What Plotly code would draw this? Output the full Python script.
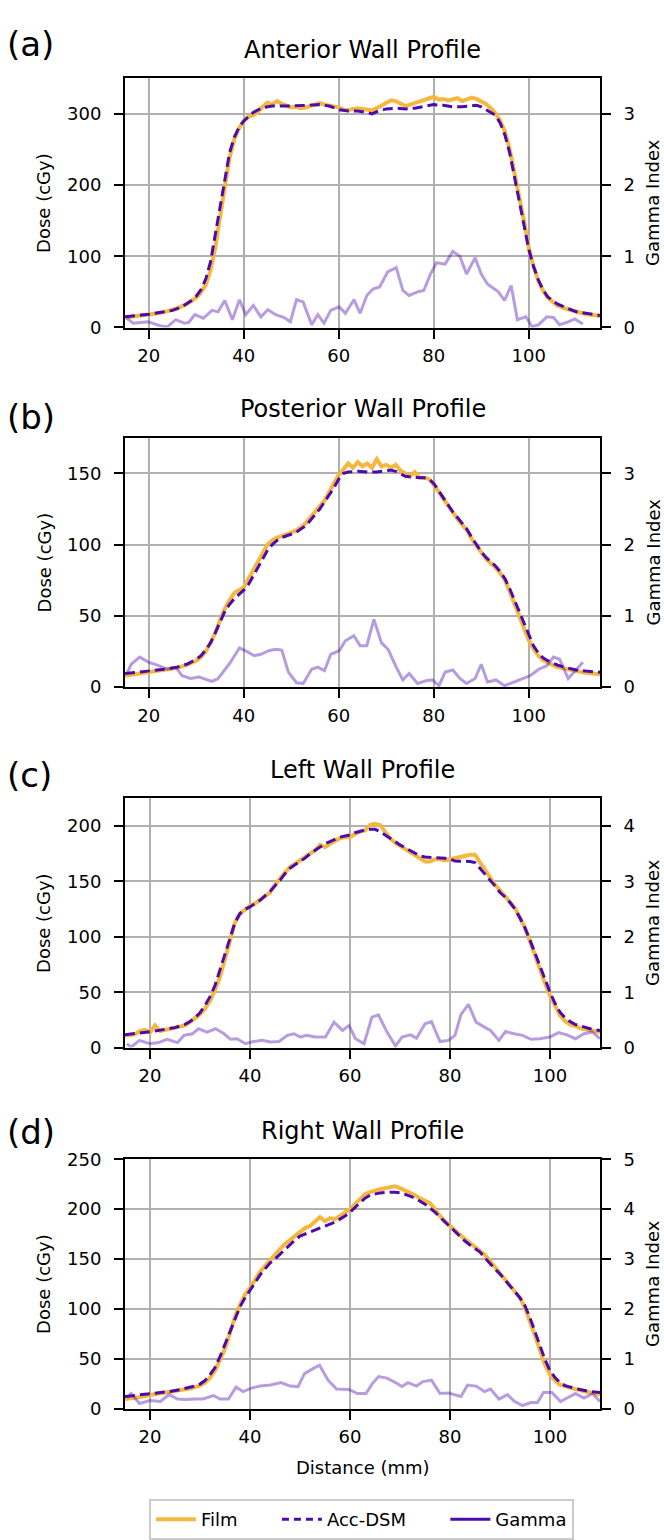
import plotly.graph_objects as go

# ---------------- DATA ----------------
titles = ["Anterior Wall Profile", "Posterior Wall Profile", "Left Wall Profile", "Right Wall Profile"]
panel_labels = ["(a)", "(b)", "(c)", "(d)"]
x_ranges = [[15, 115], [15, 115], [15, 110], [15, 110]]
dose_max = [350, 175, 225, 250]
gamma_max = [3.5, 3.5, 4.5, 5]
dose_ticks = [[0, 100, 200, 300], [0, 50, 100, 150], [0, 50, 100, 150, 200], [0, 50, 100, 150, 200, 250]]
gamma_ticks = [[0, 1, 2, 3], [0, 1, 2, 3], [0, 1, 2, 3, 4], [0, 1, 2, 3, 4, 5]]
x_ticks = [20, 40, 60, 80, 100]
legend_names = ["Film", "Acc-DSM", "Gamma"]

# (a) Anterior
a_dsm_x = [15, 20, 25, 27, 29, 30, 31, 32, 33, 34, 35, 36, 37, 38, 39, 40, 42, 44, 46, 50, 54, 56, 58, 60, 62, 64, 66, 67, 68, 70, 72, 74, 76, 78, 80, 82, 84, 86, 88, 89, 90, 91, 92, 93, 94, 95, 96, 97, 98, 99, 100, 101, 102, 103, 104, 106, 108, 110, 112, 115]
a_dsm_y = [15, 18.5, 24, 29, 38, 44, 53, 68, 92, 130, 172, 212, 245, 267, 281, 290, 302, 309, 311, 311, 312, 313, 311, 306, 304, 304, 302, 300, 303, 307, 308, 307, 308, 310, 313, 312, 310, 310, 312, 312, 310, 306, 302, 298, 287, 270, 245, 212, 180, 148, 110, 86, 67, 53, 43, 33, 27, 22, 20, 17]
a_film_x = [15, 18, 20, 22, 24, 26, 28, 29, 30, 31, 32, 33, 34, 35, 36, 37, 38, 39, 40, 41, 42, 43, 44, 45, 46, 47, 48, 49, 50, 51, 52, 53, 54, 55, 56, 57, 58, 59, 60, 61, 62, 63, 64, 65, 66, 67, 68, 69, 70, 71, 72, 73, 74, 75, 76, 77, 78, 79, 80, 81, 82, 83, 84, 85, 86, 87, 88, 89, 90, 91, 92, 93, 94, 95, 96, 97, 98, 99, 100, 101, 102, 103, 104, 105, 106, 108, 110, 112, 115]
a_film_y = [14, 16, 18, 20, 23, 27, 33, 37, 42, 49, 60, 80, 112, 155, 200, 238, 264, 280, 290, 296, 298, 303, 310, 316, 313, 318, 314, 311, 309, 310, 308, 309, 311, 313, 315, 313, 312, 310, 309, 306, 305, 307, 308, 307, 306, 305, 308, 312, 316, 319, 318, 315, 311, 313, 315, 317, 319, 322, 324, 320, 321, 319, 320, 322, 318, 321, 323, 321, 318, 314, 308, 301, 290, 275, 250, 218, 184, 150, 112, 86, 66, 52, 42, 36, 31, 26, 22, 19, 16]
a_gam_x = [15.4, 16.7, 19.9, 22.6, 23.9, 25.7, 27.5, 28.4, 29.7, 31.5, 33.3, 34.6, 36.0, 37.6, 39.1, 40.4, 42.0, 43.6, 45.1, 46.7, 48.5, 49.8, 51.1, 52.5, 54.3, 55.6, 56.9, 58.3, 60.1, 61.4, 63.2, 64.5, 65.9, 67.2, 68.6, 70.3, 72.1, 73.5, 74.8, 76.6, 77.9, 79.3, 80.6, 82.4, 84.0, 85.5, 86.9, 88.7, 90.0, 91.3, 93.6, 94.9, 96.3, 97.6, 99.4, 100.7, 102.1, 103.8, 105.2, 106.5, 108.3, 109.7, 111.4]
a_gam_y = [0.13, 0.06, 0.08, 0.02, 0.01, 0.11, 0.06, 0.07, 0.18, 0.13, 0.24, 0.22, 0.38, 0.11, 0.39, 0.18, 0.31, 0.15, 0.25, 0.18, 0.14, 0.08, 0.39, 0.36, 0.04, 0.18, 0.06, 0.24, 0.29, 0.20, 0.39, 0.20, 0.45, 0.54, 0.57, 0.78, 0.84, 0.52, 0.45, 0.50, 0.52, 0.75, 0.91, 0.89, 1.07, 1.00, 0.75, 0.98, 0.75, 0.61, 0.50, 0.38, 0.59, 0.11, 0.15, 0.01, 0.04, 0.15, 0.14, 0.04, 0.08, 0.12, 0.05]

# (b) Posterior
b_dsm_x = [15, 18, 20, 22, 24, 26, 28, 30, 31, 32, 33, 34, 35, 36, 37, 38, 39, 40, 41, 42, 43, 44, 45, 46, 47, 48, 49, 50, 51, 52, 53, 54, 55, 56, 57, 58, 59, 60, 61, 62, 64, 66, 68, 70, 71, 72, 73, 74, 76, 78, 79, 80, 81, 82, 83, 84, 85, 86, 87, 88, 89, 90, 91, 92, 93, 94, 95, 96, 97, 98, 99, 100, 101, 102, 103, 104, 105, 106, 108, 110, 112, 115]
b_dsm_y = [9.5, 10.5, 11, 12, 12.7, 14, 16, 19.5, 22, 26, 31, 38, 46, 53, 58, 62, 65, 68, 72, 78, 85, 91, 96, 100, 103, 105, 106, 107.5, 108.5, 111, 113, 117, 121, 125, 130, 135, 140, 146, 150, 151, 151.5, 151, 151, 152, 152.3, 151.5, 149.5, 148, 147.2, 147, 146, 143, 138, 133, 128, 123, 119, 115, 110.8, 105, 100, 95, 91, 88, 85, 81, 76, 69, 61, 52, 44, 36, 29, 24, 20.5, 18.5, 17, 15.5, 13.5, 12, 11.2, 10.4]
b_film_x = [15, 16, 18, 20, 22, 24, 26, 28, 30, 31, 32, 33, 34, 35, 36, 37, 38, 39, 40, 41, 42, 43, 44, 45, 46, 47, 48, 49, 50, 51, 52, 53, 54, 55, 56, 57, 58, 59, 60, 61, 62, 63, 64, 65, 66, 67, 68, 69, 70, 71, 72, 73, 74, 75, 76, 77, 78, 79, 80, 81, 82, 83, 84, 85, 86, 87, 88, 89, 90, 91, 92, 93, 94, 95, 96, 97, 98, 99, 100, 101, 102, 103, 104, 105, 106, 108, 110, 112, 115]
b_film_y = [8, 8.5, 9, 10, 11, 12, 13.5, 15.5, 18.5, 21, 25, 31, 38, 47, 55, 61, 66, 68, 70, 76, 82, 89, 95, 100, 103, 105, 106, 107, 108.5, 110, 112, 115, 119, 123, 127, 131, 137, 143, 149, 153, 157, 154, 158, 155, 157, 154, 160, 155, 156, 154, 156, 152, 150, 148, 151, 147, 147, 146, 142, 137, 132, 127, 122, 118, 114, 110, 104, 99, 94, 90, 87, 84, 80, 75, 67, 58, 49, 40, 33, 27, 22, 19, 17, 15.5, 14, 12.5, 11, 10, 9]
b_gam_x = [15.4, 16.3, 18.1, 19.9, 22.1, 23.9, 25.7, 27.0, 28.8, 30.6, 33.3, 34.6, 36.9, 39.1, 40.9, 42.2, 43.6, 45.3, 46.7, 48.0, 49.4, 51.1, 52.5, 54.3, 55.6, 57.0, 58.3, 60.1, 61.4, 63.2, 64.5, 65.9, 67.4, 69.0, 70.4, 72.1, 73.5, 74.8, 76.6, 78.4, 79.7, 81.1, 82.4, 84.0, 85.5, 86.9, 88.7, 90.0, 91.3, 93.1, 94.9, 96.7, 98.5, 100.3, 102.1, 103.8, 105.2, 106.5, 108.3, 109.7, 111.4]
b_gam_y = [0.19, 0.32, 0.42, 0.35, 0.30, 0.25, 0.28, 0.16, 0.12, 0.14, 0.08, 0.12, 0.32, 0.55, 0.49, 0.44, 0.46, 0.51, 0.53, 0.52, 0.21, 0.06, 0.05, 0.25, 0.28, 0.23, 0.46, 0.51, 0.65, 0.72, 0.58, 0.58, 0.95, 0.62, 0.53, 0.28, 0.10, 0.19, 0.05, 0.09, 0.10, 0.02, 0.21, 0.24, 0.12, 0.05, 0.12, 0.32, 0.07, 0.10, 0.02, 0.07, 0.12, 0.16, 0.25, 0.30, 0.42, 0.39, 0.12, 0.23, 0.35]

# (c) Left
c_dsm_x = [15, 17, 19, 21, 23, 25, 27, 28, 29, 30, 31, 32, 33, 34, 35, 36, 37, 38, 39, 40, 41, 42, 43, 44, 45, 46, 47, 48, 49, 50, 51, 52, 53, 54, 55, 56, 57, 58, 59, 60, 61, 62, 63, 64, 65, 66, 67, 68, 69, 70, 71, 72, 73, 74, 75, 76, 77, 78, 79, 80, 81, 82, 83, 84, 85, 86, 87, 88, 89, 90, 91, 92, 93, 94, 95, 96, 97, 98, 99, 100, 101, 102, 103, 104, 105, 106, 107, 108, 110]
c_dsm_y = [11.5, 12.5, 13.5, 15, 16.5, 18, 21, 23.5, 27, 31.5, 38, 46, 56, 70, 85, 100, 113, 121, 125, 127, 130, 133, 137, 141, 146, 151, 157, 162, 165, 168, 171, 175, 178, 181, 184, 186, 188, 190, 191, 192, 194, 195.5, 196.5, 197, 197, 195, 192, 188.5, 186, 183, 180.5, 178, 175, 173, 172, 171.8, 171.5, 171.2, 171, 170, 168.5, 168.3, 168.3, 168, 167, 162, 156, 151, 146, 140, 136, 131, 125, 117, 108, 97, 85, 73, 61, 50, 40, 32, 27, 23.5, 21, 19.5, 18, 17, 15.4]
c_film_x = [15, 16, 17, 18, 19, 20, 21, 22, 23, 24, 25, 26, 27, 28, 29, 30, 31, 32, 33, 34, 35, 36, 37, 38, 39, 40, 41, 42, 43, 44, 45, 46, 47, 48, 49, 50, 51, 52, 53, 54, 55, 56, 57, 58, 59, 60, 61, 62, 63, 64, 65, 66, 67, 68, 69, 70, 71, 72, 73, 74, 75, 76, 77, 78, 79, 80, 81, 82, 83, 84, 85, 86, 87, 88, 89, 90, 91, 92, 93, 94, 95, 96, 97, 98, 99, 100, 101, 102, 103, 104, 105, 106, 107, 108, 110]
c_film_y = [11, 11.5, 12, 15, 16, 13.5, 20, 15, 16, 17, 18, 18.5, 20, 23, 26, 30, 35, 42, 52, 64, 80, 97, 113, 121, 125, 128, 130, 133, 136, 140, 147, 153, 158, 163, 166, 169, 172, 175, 178, 183, 181, 184, 187, 189, 190, 190, 193, 195, 196, 201, 202, 201, 195, 189, 185, 182, 179, 176, 173, 170, 168, 168, 170, 170, 169, 170, 171, 172, 173, 174, 174, 167, 160, 153, 147, 142, 137, 131, 126, 117, 108, 96, 83, 70, 58, 47, 37, 29, 24, 21, 19.5, 17.5, 16.5, 15.5, 14]
c_gam_x = [15.4, 16.2, 17.9, 20.0, 21.7, 23.4, 25.5, 26.8, 28.5, 29.7, 31.4, 33.1, 34.8, 36.1, 37.4, 39.1, 40.7, 42.4, 44.1, 45.8, 47.5, 48.8, 50.1, 51.3, 53.0, 55.1, 56.8, 58.5, 59.8, 61.1, 62.8, 64.4, 65.7, 67.4, 69.1, 70.4, 72.1, 73.3, 75.0, 76.3, 78.0, 79.7, 81.0, 82.2, 83.7, 85.2, 86.9, 88.1, 89.8, 91.1, 92.8, 94.5, 96.2, 97.9, 100.0, 101.7, 103.4, 105.1, 106.8, 108.5, 110.0]
c_gam_y = [0.07, 0.01, 0.13, 0.07, 0.09, 0.15, 0.09, 0.22, 0.25, 0.34, 0.28, 0.34, 0.25, 0.15, 0.16, 0.07, 0.11, 0.13, 0.10, 0.11, 0.22, 0.25, 0.19, 0.22, 0.19, 0.19, 0.46, 0.31, 0.40, 0.16, 0.07, 0.55, 0.59, 0.28, 0.03, 0.19, 0.23, 0.17, 0.43, 0.47, 0.11, 0.13, 0.22, 0.60, 0.78, 0.46, 0.37, 0.31, 0.13, 0.29, 0.25, 0.22, 0.15, 0.16, 0.19, 0.27, 0.23, 0.16, 0.25, 0.28, 0.16]

# (d) Right
d_dsm_x = [15, 17, 20, 22, 24, 26, 28, 29, 30, 31, 32, 33, 34, 35, 36, 37, 38, 39, 40, 41, 42, 43, 44, 45, 46, 47, 48, 49, 50, 51, 52, 53, 54, 55, 56, 57, 58, 59, 60, 61, 62, 63, 64, 65, 66, 67, 68, 69, 70, 71, 72, 73, 74, 75, 76, 77, 78, 79, 80, 81, 82, 83, 84, 85, 86, 87, 88, 89, 90, 91, 92, 93, 94, 95, 96, 97, 98, 99, 100, 101, 102, 103, 104, 105, 106, 108, 110]
d_dsm_y = [12, 13, 14.8, 16, 17.1, 19, 21, 22.5, 24.5, 28, 34, 41, 52, 65, 78, 91, 102, 111, 118, 126, 134, 140, 146, 150, 155, 160, 165, 169, 173, 175, 177, 179, 181, 183, 185, 187, 190, 193, 197, 202, 207, 211, 214, 215.5, 216.3, 216.8, 217, 217, 216.5, 215, 213, 211, 208, 205, 201, 197, 192, 187, 182, 177, 172.5, 168, 164, 160.5, 157, 151, 145, 140, 135, 129, 122, 116, 111, 103, 91, 77, 63, 49, 38, 31, 26, 23, 21.5, 20, 19, 17, 16]
d_film_x = [15, 16, 18, 20, 22, 24, 26, 28, 29, 30, 31, 32, 33, 34, 35, 36, 37, 38, 39, 40, 41, 42, 43, 44, 45, 46, 47, 48, 49, 50, 51, 52, 53, 54, 55, 56, 57, 58, 59, 60, 61, 62, 63, 64, 65, 66, 67, 68, 69, 70, 71, 72, 73, 74, 75, 76, 77, 78, 79, 80, 81, 82, 83, 84, 85, 86, 87, 88, 89, 90, 91, 92, 93, 94, 95, 96, 97, 98, 99, 100, 101, 102, 103, 104, 105, 106, 108, 110]
d_film_y = [9.5, 10, 11.5, 13.5, 15, 16.5, 18, 20, 21.5, 23, 26, 31, 38, 48, 60, 76, 92, 104, 114, 121, 129, 137, 143, 149, 155, 160, 165, 169, 173, 178, 181, 183, 187, 192, 188, 191, 190, 193, 197, 200, 205, 210, 215, 217, 219, 220, 221, 222, 223, 221, 219, 217, 214, 211, 209, 206, 200, 193, 188, 183, 178, 174, 170, 166, 162, 159, 154, 148, 142, 136, 130, 123, 117, 111, 101, 88, 73, 58, 44, 34, 28, 24, 22, 21, 19.5, 18, 16, 14]
d_gam_x = [15.4, 16.2, 17.9, 20.0, 22.1, 23.8, 25.5, 27.2, 28.9, 30.6, 32.7, 34.0, 35.7, 37.2, 38.6, 40.3, 42.0, 44.1, 46.2, 48.0, 49.6, 50.9, 52.6, 53.9, 55.6, 57.3, 59.8, 61.5, 63.2, 64.4, 65.7, 67.4, 69.1, 70.4, 71.6, 73.3, 74.6, 76.3, 78.0, 79.7, 82.2, 83.5, 85.2, 86.9, 88.1, 89.8, 91.5, 92.8, 94.5, 96.2, 97.5, 98.7, 100.4, 102.1, 103.4, 105.1, 106.8, 108.5, 110.0]
d_gam_y = [0.21, 0.30, 0.10, 0.16, 0.14, 0.28, 0.19, 0.18, 0.19, 0.19, 0.26, 0.19, 0.19, 0.43, 0.34, 0.41, 0.45, 0.47, 0.52, 0.45, 0.44, 0.70, 0.80, 0.87, 0.57, 0.39, 0.38, 0.30, 0.30, 0.49, 0.64, 0.61, 0.52, 0.44, 0.52, 0.45, 0.54, 0.57, 0.30, 0.31, 0.24, 0.47, 0.45, 0.34, 0.39, 0.19, 0.28, 0.15, 0.06, 0.12, 0.12, 0.32, 0.32, 0.14, 0.21, 0.30, 0.21, 0.30, 0.14]

panels = [
    (a_film_x, a_film_y, a_dsm_x, a_dsm_y, a_gam_x, a_gam_y),
    (b_film_x, b_film_y, b_dsm_x, b_dsm_y, b_gam_x, b_gam_y),
    (c_film_x, c_film_y, c_dsm_x, c_dsm_y, c_gam_x, c_gam_y),
    (d_film_x, d_film_y, d_dsm_x, d_dsm_y, d_gam_x, d_gam_y),
]

# ---------------- STYLE ----------------
W, H = 664, 1540
FONT = "DejaVu Sans"
FILM_C = "#F5B83F"
DSM_C = "#4C0BB0"
GRID_C = "#b0b0b0"
plot_left, plot_right = 125, 600
plot_tops = [68.3, 433.3, 799.3, 1165.7]
plot_h = 253.0
label_y = [34, 412, 776, 1137.5]

def px_x(p):
    return p / W

def px_y(p):
    return 1 - p / H

fig = go.Figure()
layout = dict(
    width=W, height=H, margin=dict(l=0, r=0, t=0, b=0),
    paper_bgcolor="white", plot_bgcolor="white",
    font=dict(family=FONT, size=18, color="black"),
    annotations=[],
)

axis_common = dict(
    showline=True, linecolor="black", linewidth=2,
    ticks="outside", ticklen=9, tickwidth=2, tickcolor="black",
    tickfont=dict(family=FONT, size=18, color="black"),
    zeroline=False,
)

for i, (fx, fy, dx, dy, gx, gy) in enumerate(panels):
    n = i + 1
    xname = "x" if n == 1 else f"x{n}"
    yl = 2 * i + 1
    yr = 2 * i + 2
    ylname = "y" if yl == 1 else f"y{yl}"
    yrname = f"y{yr}"
    top = plot_tops[i]
    bot = top + plot_h

    fig.add_trace(go.Scatter(x=fx, y=fy, mode="lines", xaxis=xname, yaxis=ylname,
                             line=dict(color=FILM_C, width=4), showlegend=False))
    fig.add_trace(go.Scatter(x=dx, y=dy, mode="lines", xaxis=xname, yaxis=ylname,
                             line=dict(color=DSM_C, width=3, dash="10px,5px"), showlegend=False))
    fig.add_trace(go.Scatter(x=gx, y=gy, mode="lines", xaxis=xname, yaxis=yrname,
                             line=dict(color=DSM_C, width=3), opacity=0.4, showlegend=False))

    layout["xaxis" if n == 1 else f"xaxis{n}"] = dict(
        axis_common, domain=[px_x(plot_left), px_x(plot_right)], range=x_ranges[i],
        anchor=ylname, tickvals=x_ticks, showgrid=True, gridcolor=GRID_C, gridwidth=1.5,
        mirror=True, ticklabelstandoff=2,
    )
    layout["yaxis" if yl == 1 else f"yaxis{yl}"] = dict(
        axis_common, domain=[px_y(bot), px_y(top)], range=[0, dose_max[i]],
        anchor=xname, tickvals=dose_ticks[i], showgrid=True, gridcolor=GRID_C, gridwidth=1.5,
        ticklabelstandoff=9,
    )
    layout[f"yaxis{yr}"] = dict(
        axis_common, overlaying=ylname, side="right", range=[0, gamma_max[i]],
        anchor=xname, tickvals=gamma_ticks[i], showgrid=False, ticklabelstandoff=9,
    )

    mid = (top + bot) / 2
    layout["annotations"] += [
        dict(text=titles[i], x=px_x((plot_left + plot_right) / 2), y=px_y(top - 29),
             xref="paper", yref="paper", xanchor="center", yanchor="middle",
             showarrow=False, font=dict(family=FONT, size=24, color="black")),
        dict(text=panel_labels[i], x=px_x(5), y=px_y(label_y[i]),
             xref="paper", yref="paper", xanchor="left", yanchor="middle",
             showarrow=False, font=dict(family=FONT, size=34, color="black")),
        dict(text="Dose (cGy)", x=px_x(44), y=px_y(mid), textangle=-90,
             xref="paper", yref="paper", xanchor="center", yanchor="middle",
             showarrow=False, font=dict(family=FONT, size=18, color="black")),
        dict(text="Gamma Index", x=px_x(653), y=px_y(mid), textangle=-90,
             xref="paper", yref="paper", xanchor="center", yanchor="middle",
             showarrow=False, font=dict(family=FONT, size=18, color="black")),
    ]

layout["annotations"].append(
    dict(text="Distance (mm)", x=px_x((plot_left + plot_right) / 2), y=px_y(1479),
         xref="paper", yref="paper", xanchor="center", yanchor="middle",
         showarrow=False, font=dict(family=FONT, size=18, color="black"))
)

# legend entries (non-breaking spaces widen the gap between entries)
pad = "\u00a0" * 6
fig.add_trace(go.Scatter(x=[None], y=[None], mode="lines", name=legend_names[0] + pad, xaxis="x4", yaxis="y7",
                         line=dict(color=FILM_C, width=4)))
fig.add_trace(go.Scatter(x=[None], y=[None], mode="lines", name=legend_names[1] + pad, xaxis="x4", yaxis="y7",
                         line=dict(color=DSM_C, width=3, dash="7px,5px")))
fig.add_trace(go.Scatter(x=[None], y=[None], mode="lines", name=legend_names[2], xaxis="x4", yaxis="y7",
                         line=dict(color=DSM_C, width=3)))

layout["legend"] = dict(
    orientation="h", x=px_x(361.5), xanchor="center", y=px_y(1510.7), yanchor="top",
    bordercolor="#cccccc", borderwidth=2, bgcolor="white", itemwidth=40,
    font=dict(family=FONT, size=18, color="black"),
)
layout["showlegend"] = True

fig.update_layout(**layout)
fig.write_html(
    "out.html",
    config={"displayModeBar": False},
    post_script="document.body.style.margin='0px';document.body.style.padding='0px';"
                "document.documentElement.style.overflow='hidden';",
)
